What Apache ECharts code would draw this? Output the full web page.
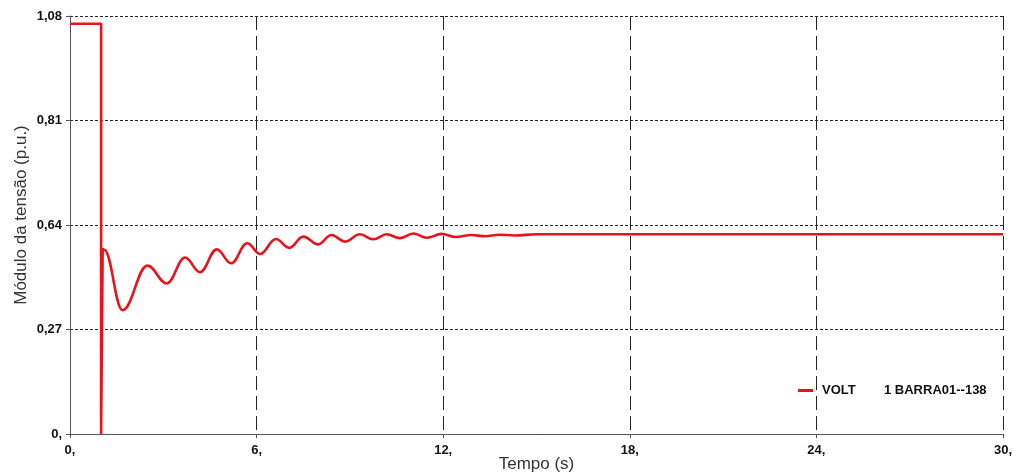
<!DOCTYPE html>
<html>
<head>
<meta charset="utf-8">
<title>Módulo da tensão</title>
<script src="https://cdn.jsdelivr.net/npm/echarts@6/dist/echarts.min.js"></script>
<style>
  html, body { margin: 0; padding: 0; background: #ffffff; }
  #chart { width: 1013px; height: 476px; }
</style>
</head>
<body>
<div id="chart"></div>
<script>
// Bus voltage magnitude after the disturbance (time in s, voltage in p.u.)
const seriesName = 'VOLT      1 BARRA01--138';
const xTickLabels = ['0,', '6,', '12,', '18,', '24,', '30,'];
const yTickLabels = ['0,', '0,27', '0,64', '0,81', '1,08'];

// pre-fault level, the short drop to zero and the recovery jump
const stepTime = [0, 1.0, 1.0, 1.05];
const stepVolt = [1.06, 1.06, 0.0, 0.48];

// damped electromechanical swing that follows
const swingTime = [1.05, 1.10, 1.69, 2.49, 3.11, 3.70, 4.18, 4.72, 5.18, 5.70, 6.11, 6.62, 7.05,
  7.50, 7.98, 8.41, 8.84, 9.32, 9.75, 10.18, 10.61, 11.04, 11.47, 11.95, 12.40, 12.90, 13.35,
  13.80, 14.30, 15.00, 16.00, 17.00, 30.00];
const swingVolt = [0.480, 0.476, 0.320, 0.435, 0.389, 0.456, 0.418, 0.477, 0.441, 0.493, 0.465, 0.504, 0.481,
  0.510, 0.490, 0.514, 0.497, 0.516, 0.503, 0.516, 0.506, 0.518, 0.507, 0.517, 0.509, 0.514, 0.511,
  0.515, 0.513, 0.516, 0.516, 0.516, 0.516];

const pairs = (xs, ys) => xs.map((x, i) => [x, ys[i]]);

const FONT = '"Liberation Sans", Arial, sans-serif';
const RED = '#e8141c';

const chart = echarts.init(document.getElementById('chart'), null, { renderer: 'canvas' });

chart.setOption({
  animation: false,
  backgroundColor: '#ffffff',
  grid: { left: 70, right: 10, top: 16, bottom: 42, containLabel: false, outerBoundsMode: 'none' },
  legend: {
    left: 798,
    top: 384,
    padding: 0,
    data: [seriesName],
    icon: 'rect',
    itemWidth: 15,
    itemHeight: 3,
    formatter: () => '{a|VOLT}{b|1 BARRA01--138}',
    textStyle: {
      fontFamily: FONT,
      fontWeight: 'bold',
      fontSize: 13,
      color: '#111',
      rich: {
        a: { fontFamily: FONT, fontWeight: 'bold', fontSize: 13, color: '#111', width: 62, padding: [0, 0, 0, 4] },
        b: { fontFamily: FONT, fontWeight: 'bold', fontSize: 13, color: '#111' }
      }
    }
  },
  xAxis: {
    type: 'value',
    min: 0,
    max: 30,
    interval: 6,
    name: 'Tempo (s)',
    nameLocation: 'middle',
    nameGap: 22,
    nameMoveOverlap: false,
    nameTextStyle: { fontFamily: FONT, fontSize: 17, color: '#333' },
    axisLine: { show: true, onZero: false, lineStyle: { color: '#555', width: 1 } },
    axisTick: { show: true, length: 4, lineStyle: { color: '#555' } },
    axisLabel: {
      margin: 10,
      fontFamily: FONT,
      fontWeight: 'bold',
      fontSize: 13,
      color: '#111',
      formatter: (v) => xTickLabels[Math.round(v / 6)]
    },
    splitLine: { show: true, lineStyle: { color: '#222', width: 1, type: [14, 6] } }
  },
  yAxis: {
    type: 'value',
    min: 0,
    max: 1.08,
    interval: 0.27,
    name: 'Módulo da tensão (p.u.)',
    nameLocation: 'middle',
    nameGap: 40,
    nameMoveOverlap: false,
    nameTextStyle: { fontFamily: FONT, fontSize: 17, color: '#333', padding: [0, 0, 0, 20] },
    axisLine: { show: true, lineStyle: { color: '#555', width: 1 } },
    axisTick: { show: true, length: 4, lineStyle: { color: '#555' } },
    axisLabel: {
      margin: 8,
      fontFamily: FONT,
      fontWeight: 'bold',
      fontSize: 13,
      color: '#111',
      formatter: (v) => yTickLabels[Math.round(v / 0.27)]
    },
    splitLine: { show: true, lineStyle: { color: '#222', width: 1, type: [3, 2] } }
  },
  series: [
    {
      name: seriesName,
      type: 'line',
      data: pairs(stepTime, stepVolt),
      showSymbol: false,
      symbol: 'none',
      lineStyle: { color: RED, width: 2.6 },
      itemStyle: { color: RED },
      z: 3
    },
    {
      name: seriesName,
      type: 'line',
      data: pairs(swingTime, swingVolt),
      smooth: 0.4,
      smoothMonotone: 'x',
      showSymbol: false,
      symbol: 'none',
      lineStyle: { color: RED, width: 2.6 },
      itemStyle: { color: RED },
      z: 3
    }
  ]
});
</script>
</body>
</html>
